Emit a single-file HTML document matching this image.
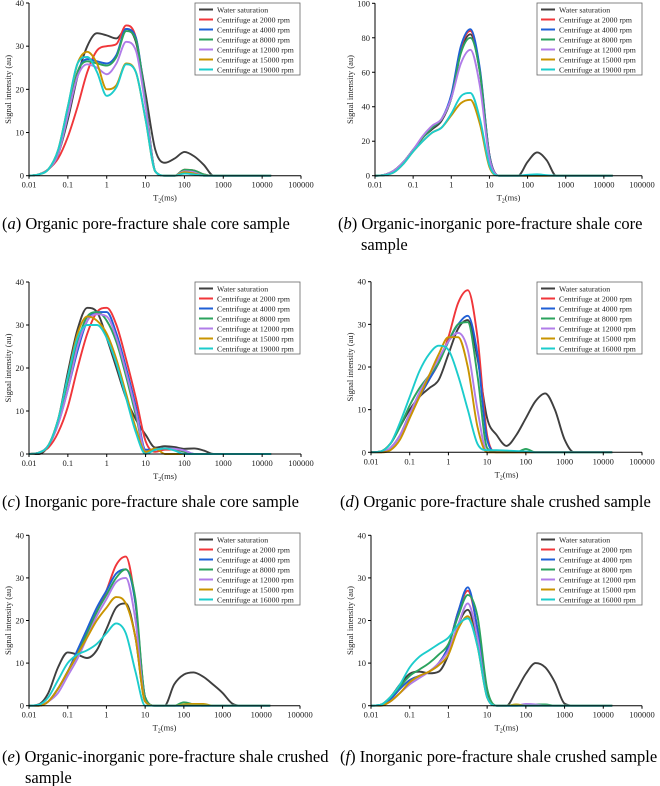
<!DOCTYPE html>
<html><head><meta charset="utf-8"><style>
html,body{margin:0;padding:0;background:#fff;}
svg{display:block;font-family:"Liberation Serif",serif;}
</style></head><body>
<svg id="fig" width="660" height="786" viewBox="0 0 660 786" xmlns="http://www.w3.org/2000/svg"></svg>
<script>
// shared log10(T2) grid: -2 .. 4.25 step 0.25
const gridLogT = [-2,-1.75,-1.5,-1.25,-1,-0.75,-0.5,-0.25,0,0.25,0.5,0.75,1,1.25,1.5,1.75,2,2.25,2.5,2.75,3,3.25,3.5,3.75,4,4.25];
const xTickLabels = ["0.01","0.1","1","10","100","1000","10000","100000"];
const seriesColors = ["#3f3f3f","#f0363a","#1f5fd6","#2ba35e","#b07ce8","#c99400","#1ccccc"];
const legendA = ["Water saturation","Centrifuge at 2000 rpm","Centrifuge at 4000 rpm","Centrifuge at 8000 rpm","Centrifuge at 12000 rpm","Centrifuge at 15000 rpm","Centrifuge at 19000 rpm"];
const legendB = ["Water saturation","Centrifuge at 2000 rpm","Centrifuge at 4000 rpm","Centrifuge at 8000 rpm","Centrifuge at 12000 rpm","Centrifuge at 15000 rpm","Centrifuge at 16000 rpm"];
const yTicks40 = [0,10,20,30,40];
const yTicks100 = [0,20,40,60,80,100];

// panel a
const aWater = [0,0.3,1.5,5,13,23,30,33,32.5,31.8,34,31,19,6,3,4,5.5,4.5,2.5,0];
const aR2000 = [0,0.3,1.5,4,9,16,24,29,30,30.5,34.8,32,17,1,0,0,1.4,1.2,0.3,0];
const aR4000 = [0,0.3,1.5,5,14,24,27,26.5,26,28,34,32,17,1,0,0,1,0.8,0,0];
const aR8000 = [0,0.3,1.5,5,14,24,26.5,26,25.5,27.5,33.5,31.5,17,1,0,0,1.4,1.2,0.3,0];
const aR12000 = [0,0.3,1.5,5,14,23,25.8,25,23.5,26,31,29,16,1,0,0,1,0.8,0,0];
const aR15000 = [0,0.3,1.5,6,16,26,28.7,26,20,21,26,24,13,1,0,0,0.8,0.5,0,0];
const aR19000 = [0,0.3,1.5,6,16,26,27.5,24,18.5,20.5,25.8,24,13,1,0,0,0.5,0.3,0,0];
// panel b
const bWater = [0,0.5,3,8,15,22,27,32,45,72,82,60,12,0,0,0,8,13.5,9,0];
const bR2000 = [0,0.5,3,8,15,22,28,33,46,74,84,61,12,0];
const bR4000 = [0,0.5,3,8,15,22,28,33,47,75,85,62,12,0];
const bR8000 = [0,0.5,3,8,15,22,28,33,45,71,80,60,11,0];
const bR12000 = [0,0.5,3,8,15,23,29,33,45,65,73,52,10,0];
const bR15000 = [0,0.3,2,7,14,20,25,28,35,42,44,30,5,0];
const bR19000 = [0,0.3,2,7,14,20,25,28,36,46,48,33,6,0,0,0,0.5,0.8,0.3,0];
// panel c
const cWater = [0,0,2,8,19,29,34,33,27,20,13,8,4.5,1.5,1.8,1.6,1.2,1.3,0.8,0];
const cR2000 = [0,0.3,1.5,5,11,20,28,33,34,30,22,13,3,0.5,1,1,0.5,0];
const cR4000 = [0,0.3,2,7,15,24,31,33,33,28,20,11,1,1,1.3,1.2,0.8,0];
const cR8000 = [0,0.3,2,8,17,26,32,33,31,26,18,9,0.5,1,1.3,1.2,0.5,0];
const cR12000 = [0,0.3,2,7,15,25,31,32.5,32,27,19,10,0.5,1,1.3,1.2,0.8,0];
const cR15000 = [0,0.3,2,8,18,28,32,31,28,22,14,6,0.5,1.3,0,0];
const cR19000 = [0,0.3,2,8,18,27,30,30,27,21,13,5,0,1,1.3,0.8,0];
// panel d
const dWater = [0,0.2,2,6,10,13,15,17,23,29,31,22,8,4,1.5,4,8,12,13.8,10,3,0];
const dR2000 = [0,0,1,4,9,13,17,21,27,35,38,27,4,0];
const dR4000 = [0,0,1,4,9,13,17,21,26,30,32,23,3,0];
const dR8000 = [0,0.2,2,6,11,15,18,21,26,30,30.5,18,1,0,0,0,0.8,0];
const dR12000 = [0,0,1,4,9,14,18,22,26,28,24,10,0];
const dR15000 = [0,0,0.5,3,8,13,18,23,27,27,20,6,0];
const dR16000 = [0,0.2,2,7,13,19,23,25,24,18,10,2,0.5,0.5,0.4,0.3,0.2,0];
// panel e
const eWater = [0,0.3,3,9,12.5,12,11.2,13,18,23,24,16,1,0,0,5,7.3,7.8,6.8,5,3,0.5,0];
const eR2000 = [0,0,1,4,8,12,17,22,27,33,35,24,2,0];
const eR4000 = [0,0,1,4,8,13,18,23,27,31,32,24,2,0];
const eR8000 = [0,0,1,4,8,12,17,22,26,30,32,25,2,0,0,0,0.8,0.3,0];
const eR12000 = [0,0,1,3,7,11,16,21,25,29,30,20,1,0];
const eR15000 = [0,0,1,4,8,12,16,20,23,25.5,24,16,1,0,0,0,0.3,0.4,0.4,0];
const eR16000 = [0,0.2,2,6,10,12,13,14.5,17,19.3,17,8,0];
// panel f
const fWater = [0,0.2,2,5,7.5,8,7.6,8,12,19,22.5,15,3,0,0,3.5,7.5,10,9,5.5,0.5,0];
const fR2000 = [0,0.2,1.5,4,6,7,8,10,14,22,27,18,2,0];
const fR4000 = [0,0.2,1.5,4,6,7,8,10,14,22,27.8,18,2,0];
const fR8000 = [0,0.2,2,4.5,7,8.5,10,12,14.5,21,26,21,4,0,0,0,0.3,0.3,0.3,0];
const fR12000 = [0,0,1,3,5,6.5,8,10,13,19,24,16,2,0,0,0,0.4,0.3,0];
const fR15000 = [0,0,1,3,5.5,7,8,9.5,12,18,21,14,2,0,0,0.3,0];
const fR16000 = [0,0.2,2,5,9,11.5,13,14.5,16,19,20.5,14,2,0];

const panels = [
 {id:"a",x0:29,x1:301,y0:175.7,y1:3,ymax:40,ticks:yTicks40,leg:legendA,lx:195,ly:3,series:[aWater,aR2000,aR4000,aR8000,aR12000,aR15000,aR19000],cap:["Organic pore-fracture shale core sample"],cx:2,cy:229},
 {id:"b",x0:375,x1:642,y0:175.7,y1:3.3,ymax:100,ticks:yTicks100,leg:legendA,lx:537,ly:3,series:[bWater,bR2000,bR4000,bR8000,bR12000,bR15000,bR19000],cap:["Organic-inorganic pore-fracture shale core","sample"],cx:338,cy:229},
 {id:"c",x0:29,x1:301,y0:454,y1:282,ymax:40,ticks:yTicks40,leg:legendA,lx:195,ly:282,series:[cWater,cR2000,cR4000,cR8000,cR12000,cR15000,cR19000],cap:["Inorganic pore-fracture shale core sample"],cx:2,cy:507},
 {id:"d",x0:371,x1:642,y0:452.3,y1:281.7,ymax:40,ticks:yTicks40,leg:legendB,lx:537,ly:282,series:[dWater,dR2000,dR4000,dR8000,dR12000,dR15000,dR16000],cap:["Organic pore-fracture shale crushed sample"],cx:340,cy:507},
 {id:"e",x0:29,x1:300,y0:705.7,y1:535.3,ymax:40,ticks:yTicks40,leg:legendB,lx:195,ly:533,series:[eWater,eR2000,eR4000,eR8000,eR12000,eR15000,eR16000],cap:["Organic-inorganic pore-fracture shale crushed","sample"],cx:2,cy:762},
 {id:"f",x0:371,x1:642,y0:705.7,y1:535.3,ymax:40,ticks:yTicks40,leg:legendB,lx:537,ly:533,series:[fWater,fR2000,fR4000,fR8000,fR12000,fR15000,fR16000],cap:["Inorganic pore-fracture shale crushed sample"],cx:340,cy:762}
];

const NS="http://www.w3.org/2000/svg";
const svg=document.getElementById("fig");
function mk(tag,attrs,parent){const e=document.createElementNS(NS,tag);for(const k in attrs)e.setAttribute(k,attrs[k]);(parent||svg).appendChild(e);return e;}

function monotonePath(px,py){
 const n=px.length;const d=[],m=[];
 for(let i=0;i<n-1;i++)d.push((py[i+1]-py[i])/(px[i+1]-px[i]));
 m[0]=d[0];m[n-1]=d[n-2];
 for(let i=1;i<n-1;i++){m[i]=(d[i-1]*d[i]<=0)?0:(d[i-1]+d[i])/2;}
 for(let i=0;i<n-1;i++){if(d[i]===0){m[i]=0;m[i+1]=0;continue;}const a=m[i]/d[i],b=m[i+1]/d[i],s=a*a+b*b;if(s>9){const t=3/Math.sqrt(s);m[i]=t*a*d[i];m[i+1]=t*b*d[i];}}
 let p="M"+px[0].toFixed(2)+","+py[0].toFixed(2);
 for(let i=0;i<n-1;i++){const h=(px[i+1]-px[i])/3;
  p+=" C"+(px[i]+h).toFixed(2)+","+(py[i]+m[i]*h).toFixed(2)+" "+(px[i+1]-h).toFixed(2)+","+(py[i+1]-m[i+1]*h).toFixed(2)+" "+px[i+1].toFixed(2)+","+py[i+1].toFixed(2);}
 return p;
}

panels.forEach(P=>{
 const g=mk("g",{});
 
 
 const sx=v=>P.x0+(v+2)/7*(P.x1-P.x0);
 const sy=v=>P.y0-v/P.ymax*(P.y0-P.y1);
 const sg=mk("g",{},g);
 
 
 P.series.forEach((vals,si)=>{
  const xs=[],ys=[];
  for(let i=0;i<gridLogT.length;i++){const lt=Math.min(gridLogT[i],4.23);xs.push(sx(lt));ys.push(sy(i<vals.length?vals[i]:0));}
  const path=mk("path",{d:monotonePath(xs,ys),fill:"none",stroke:seriesColors[si],"stroke-width":"1.9","stroke-linejoin":"round"},sg);
  
  
 });
 const xa=mk("line",{x1:P.x0,y1:P.y0,x2:P.x1,y2:P.y0,stroke:"#000","stroke-width":"1"},g);
 
 
 const ya=mk("line",{x1:P.x0,y1:P.y0,x2:P.x0,y2:P.y1,stroke:"#000","stroke-width":"1"},g);
 
 
 xTickLabels.forEach((lab,i)=>{
  const x=sx(i-2);
  mk("line",{x1:x,y1:P.y0,x2:x,y2:P.y0+3,stroke:"#000","stroke-width":"1"},g);
  const t=mk("text",{x:x,y:P.y0+12,"font-size":"8.5","text-anchor":"middle",fill:"#222"},g);
  t.textContent=lab;
  
  
 });
 P.ticks.forEach(v=>{
  const y=sy(v);
  mk("line",{x1:P.x0-3,y1:y,x2:P.x0,y2:y,stroke:"#000","stroke-width":"1"},g);
  const t=mk("text",{x:P.x0-5,y:y+3,"font-size":"8.5","text-anchor":"end",fill:"#222"},g);
  t.textContent=v;
  
  
 });
 const xt=mk("text",{x:(P.x0+P.x1)/2,y:P.y0+25,"font-size":"8.5","text-anchor":"middle",fill:"#222"},g);
 xt.innerHTML='T<tspan font-size="6" dy="2">2</tspan><tspan dy="-2">(ms)</tspan>';
 
 
 const yl=P.x0-(P.ymax===100?22:18);
 const yt=mk("text",{x:yl,y:(P.y0+P.y1)/2,"font-size":"8.5","text-anchor":"middle",fill:"#222",transform:"rotate(-90 "+yl+" "+((P.y0+P.y1)/2)+")"},g);
 yt.textContent="Signal intensity (au)";
 
 
 const lg=mk("g",{},g);
 
 
 mk("rect",{x:P.lx,y:P.ly,width:105,height:72,fill:"#fff",stroke:"#666","stroke-width":"0.8"},lg);
 P.leg.forEach((lab,i)=>{
  const y=P.ly+6.5+i*10;
  const ln=mk("line",{x1:P.lx+4,y1:y,x2:P.lx+18,y2:y,stroke:seriesColors[i],"stroke-width":"2"},lg);
  
  
  const t=mk("text",{x:P.lx+22,y:y+3,"font-size":"7.8",fill:"#222"},lg);
  t.textContent=lab;
  
  
 });
 P.cap.forEach((line,i)=>{
  const t=mk("text",{x:i===0?P.cx:P.cx+23,y:P.cy+i*21,"font-size":"16.5",fill:"#000"},g);
  if(i===0){t.innerHTML='(<tspan font-style="italic">'+P.id+'</tspan>) '+line;}else{t.textContent=line;}
  
  
 });
});
</script>
</body></html>
